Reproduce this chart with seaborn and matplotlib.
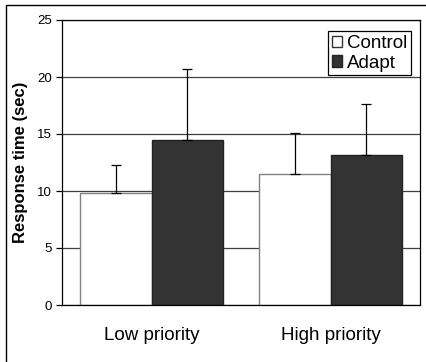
import matplotlib
matplotlib.use("Agg")
import matplotlib.pyplot as plt
from matplotlib.patches import Rectangle
import seaborn as sns
import pandas as pd

# ---- data ----
categories = ["Low priority", "High priority"]
groups = ["Control", "Adapt"]
control_means = [9.8, 11.5]
adapt_means = [14.5, 13.2]
control_err = [2.45, 3.55]
adapt_err = [6.2, 4.45]
y_ticks = [0, 5, 10, 15, 20, 25]

sns.set_theme(style="white")
plt.rcParams['font.family'] = ['Liberation Sans', 'DejaVu Sans']
plt.rcParams['text.color'] = 'black'
plt.rcParams['axes.labelcolor'] = 'black'
plt.rcParams['xtick.labelcolor'] = 'black'
plt.rcParams['ytick.labelcolor'] = 'black'

df = pd.DataFrame({
    "priority": categories * 2,
    "group": [groups[0]] * 2 + [groups[1]] * 2,
    "time": control_means + adapt_means,
})

fig = plt.figure(figsize=(4.26, 3.62), dpi=100)
ax = fig.add_axes([62/426, 1 - 305/362, 358/426, 285/362])

sns.barplot(data=df, x="priority", y="time", hue="group", order=categories,
            hue_order=groups, palette={"Control": "white", "Adapt": "#333333"},
            errorbar=None, width=0.8, ax=ax, zorder=2)

edge_cols = ["#808080", "#222222"]
handles = []
for cont, errs, ec in zip(ax.containers, [control_err, adapt_err], edge_cols):
    for p in cont:
        p.set_edgecolor(ec)
        p.set_linewidth(1.0)
    xs = [p.get_x() + p.get_width() / 2 for p in cont]
    ys = [p.get_height() for p in cont]
    ax.errorbar(xs, ys, yerr=[[0] * len(errs), errs], fmt="none",
                ecolor="black", elinewidth=0.9, capsize=3.5, capthick=0.9, zorder=3)
    handles.append(cont.patches[0])

ax.set_ylim(0, 25)
ax.set_xlim(-0.5, 1.5)
ax.set_yticks(y_ticks)
ax.set_yticklabels([str(v) for v in y_ticks], fontsize=9.5, color="black")
ax.set_xticks([0, 1])
ax.set_xticklabels(categories, fontsize=13.5, color="black")
ax.set_xticks([-0.5, 0.5, 1.5], minor=True)
ax.tick_params(axis="x", which="major", length=0, pad=16)
ax.tick_params(axis="x", which="minor", length=6, width=1, color="#555555", direction="out")
ax.tick_params(axis="y", length=4, width=0.9, color="black", direction="out", pad=3, left=True)
ax.set_xlabel("")
ax.set_ylabel("Response time (sec)", fontsize=12, fontweight="bold", labelpad=7, color="black")

ax.yaxis.grid(True, color="#404040", linewidth=0.9)
ax.set_axisbelow(True)
for s in ax.spines.values():
    s.set_color("black")
    s.set_linewidth(0.9)
    s.set_visible(True)

leg = ax.legend(handles=handles, labels=groups, loc="upper right",
                bbox_to_anchor=(0.975, 0.961), borderaxespad=0, fontsize=13.5,
                frameon=True, fancybox=False, framealpha=1, edgecolor="black",
                handlelength=0.55, handleheight=0.55, handletextpad=0.25,
                labelspacing=0.15, borderpad=0.2)
leg.get_frame().set_linewidth(0.9)
leg.legend_handles[0].set_edgecolor("#333333")
for t in leg.get_texts():
    t.set_color("black")

fig.add_artist(Rectangle((5.5/426, -0.1), 1.2, 1.1 - 4.5/362, transform=fig.transFigure,
                         fill=False, edgecolor="black", linewidth=1.0, clip_on=False))

fig.savefig("out.png", dpi=100)
